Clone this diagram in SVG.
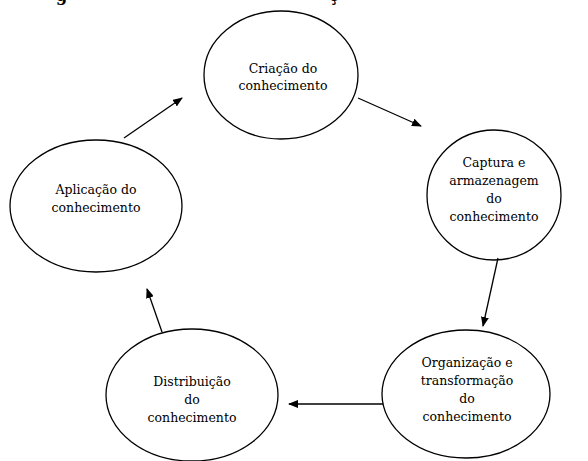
<svg xmlns="http://www.w3.org/2000/svg" width="588" height="461" viewBox="0 0 588 461">
<style>
.n ellipse{fill:#fff;stroke:#000;stroke-width:1.3}
.n text{font-size:12.5px;fill:#000;text-anchor:middle}
.c line{stroke:#000;stroke-width:1.3;marker-end:url(#ah)}
.t{font-size:16px;font-weight:bold;fill:#000}
</style>
<defs>
<marker id="ah" markerWidth="10" markerHeight="8" refX="9" refY="4" orient="auto" markerUnits="userSpaceOnUse">
<path d="M0,0 L10,4 L0,8 Z" fill="#000"/>
</marker>
</defs>
<rect width="588" height="461" fill="#fff"/>
<g font-family="DejaVu Serif, serif">
<text class="t" x="56" y="0.5">g</text>
<text class="t" x="329" y="0.5">ç</text>
<g id="criacao" class="n">
<ellipse cx="281" cy="75" rx="77" ry="64"/>
<text x="283" y="73">Criação do</text>
<text x="283" y="90">conhecimento</text>
</g>
<g id="captura" class="n">
<ellipse cx="494" cy="195" rx="67" ry="65"/>
<text x="494" y="167">Captura e</text>
<text x="494" y="185">armazenagem</text>
<text x="494" y="203">do</text>
<text x="494" y="221">conhecimento</text>
</g>
<g id="organizacao" class="n">
<ellipse cx="466" cy="394" rx="84" ry="64"/>
<text x="467" y="367">Organização e</text>
<text x="467" y="385">transformação</text>
<text x="467" y="403">do</text>
<text x="467" y="421">conhecimento</text>
</g>
<g id="distribuicao" class="n">
<ellipse cx="192" cy="395" rx="86" ry="66"/>
<text x="192" y="386">Distribuição</text>
<text x="192" y="404">do</text>
<text x="192" y="422">conhecimento</text>
</g>
<g id="aplicacao" class="n">
<ellipse cx="96" cy="206" rx="86" ry="66"/>
<text x="96" y="194">Aplicação do</text>
<text x="96" y="212">conhecimento</text>
</g>
</g>
<g id="connectors" class="c">
<line x1="358" y1="98" x2="421" y2="126"/>
<line x1="498" y1="258" x2="483" y2="326"/>
<line x1="383" y1="404" x2="289" y2="404"/>
<line x1="162" y1="332" x2="147" y2="289"/>
<line x1="124" y1="138" x2="182" y2="98"/>
</g>
</svg>
